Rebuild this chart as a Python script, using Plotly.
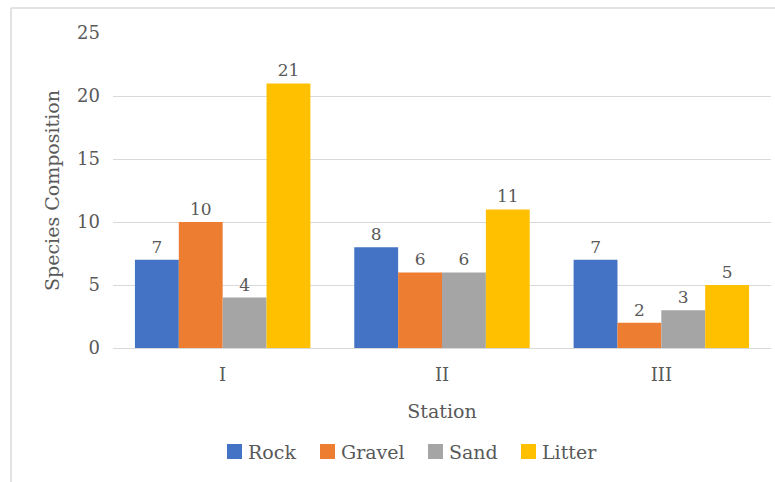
import plotly.graph_objects as go

# Species counts per station and substrate
stations = ["I", "II", "III"]
rock = [7, 8, 7]
gravel = [10, 6, 2]
sand = [4, 6, 3]
litter = [21, 11, 5]

series = [
    ("Rock", rock, "#4472C4"),
    ("Gravel", gravel, "#ED7D31"),
    ("Sand", sand, "#A5A5A5"),
    ("Litter", litter, "#FFC000"),
]

FONT = "DejaVu Serif"
TXT = "#595959"
GRID = "#D9D9D9"

# plot-area geometry in pixels
W, H = 775, 482
L, R, T, B = 113, 4, 33, 134
PW, PH = W - L - R, H - T - B


def px(x):
    return (x - L) / PW


def py(y):
    return (H - B - y) / PH


fig = go.Figure()
for name, vals, color in series:
    fig.add_trace(go.Bar(
        name=name, x=stations, y=vals,
        marker=dict(color=color, line=dict(width=0)),
        text=[str(v) for v in vals], textposition="outside",
        textfont=dict(family=FONT, size=17, color=TXT),
        cliponaxis=False, showlegend=False,
    ))

# legend: swatch + label per series
shapes = []
annotations = []
swatch_x = [227, 320, 428, 521]
for (name, _, color), sx in zip(series, swatch_x):
    shapes.append(dict(type="rect", xref="paper", yref="paper",
                       x0=px(sx), x1=px(sx + 15), y0=py(459), y1=py(444),
                       fillcolor=color, line=dict(width=0)))
    annotations.append(dict(text=name, xref="paper", yref="paper",
                            x=px(sx + 19), y=py(452), xanchor="left", yanchor="middle",
                            showarrow=False,
                            font=dict(family=FONT, size=19, color=TXT)))

# chart frame (left and top edges)
shapes.append(dict(type="line", xref="paper", yref="paper",
                   x0=px(11), x1=px(11), y0=py(8), y1=py(H + 2),
                   line=dict(color=GRID, width=1.5)))
shapes.append(dict(type="line", xref="paper", yref="paper",
                   x0=px(11), x1=px(W + 2), y0=py(8), y1=py(8),
                   line=dict(color=GRID, width=1.5)))

fig.update_layout(
    width=W, height=H,
    margin=dict(l=L, r=R, t=T, b=B),
    paper_bgcolor="white", plot_bgcolor="white",
    barmode="group", bargap=0.2, bargroupgap=0,
    font=dict(family=FONT, size=18, color=TXT),
    showlegend=False,
    xaxis=dict(
        title=dict(text="Station", font=dict(family=FONT, size=19, color=TXT), standoff=21),
        showline=True, linecolor=GRID, linewidth=1,
        ticks="", tickfont=dict(family=FONT, size=18, color=TXT),
        ticklabelstandoff=10,
        showgrid=False,
    ),
    yaxis=dict(
        title=dict(text="Species Composition", font=dict(family=FONT, size=19, color=TXT), standoff=12),
        range=[0, 25], dtick=5,
        showgrid=True, gridcolor=GRID, gridwidth=1,
        zeroline=False, showline=False, ticks="",
        tickfont=dict(family=FONT, size=18, color=TXT),
        ticklabelstandoff=12,
    ),
    shapes=shapes,
    annotations=annotations,
)

fig.write_html("out.html")
